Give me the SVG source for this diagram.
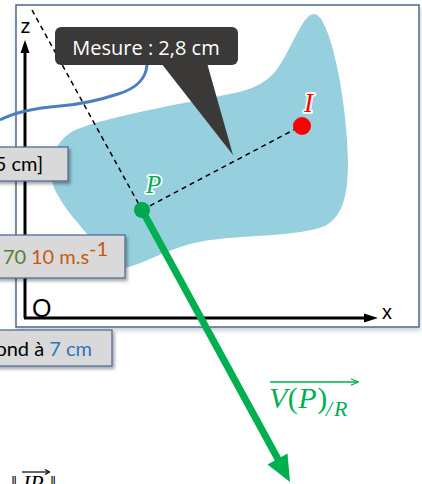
<svg xmlns="http://www.w3.org/2000/svg" width="422" height="484" viewBox="0 0 422 484">
  <defs>
    <filter id="shadow" x="-10%" y="-20%" width="130%" height="150%">
      <feDropShadow dx="2" dy="2.5" stdDeviation="1.5" flood-color="#000" flood-opacity="0.35"/>
    </filter>
    <filter id="fshadow" x="-5%" y="-5%" width="110%" height="112%">
      <feDropShadow dx="1" dy="3" stdDeviation="2" flood-color="#000" flood-opacity="0.18"/>
    </filter>
    <marker id="smallArrow" viewBox="0 0 10 10" refX="9" refY="5" markerWidth="8" markerHeight="8" markerUnits="userSpaceOnUse" orient="auto">
      <path d="M0,1 L10,5 L0,9" fill="none" stroke="#00b050" stroke-width="1.5"/>
    </marker>
  </defs>
  <style>
    .box { fill: #d9d9d9; stroke: #4f6d98; stroke-width: 1.3; filter: url(#shadow); }
    .ui { font-family: Lato, "Liberation Sans", sans-serif; font-size: 20px; }
    .axisl { font-family: "Liberation Sans", Arial, sans-serif; fill: #000; }
    .math { font-family: "Liberation Serif", "DejaVu Serif", serif; }
    .dash { fill: none; stroke: #000; stroke-width: 1.5; stroke-dasharray: 5 4; }
    .glow { stroke: #fff; stroke-width: 3.5; paint-order: stroke; stroke-linejoin: round; }
  </style>

  <g id="frame">
    <rect x="16" y="5" width="403" height="322" fill="#fff" stroke="#4d6a92" stroke-width="1.5" filter="url(#fshadow)"/>
  </g>

  <g id="surface">
    <path d="M 314,14 C 302,14 292,50 275,72 C 260,88 245,91 220,96 C 180,104 110,116 75,130 C 55,140 45,165 55,190 C 65,210 80,225 92,240 C 100,255 110,272 125,268 C 150,262 170,246 210,240 C 250,235 300,236 325,226 C 345,215 348,190 348,160 C 347,100 330,14 314,14 Z" fill="#96cfdd"/>
  </g>

  <g id="axes">
    <line x1="25" y1="318" x2="25" y2="50" stroke="#000" stroke-width="3"/>
    <polygon points="25,40 20.5,53 29.5,53" fill="#000"/>
    <line x1="24" y1="318" x2="366" y2="318" stroke="#000" stroke-width="3"/>
    <polygon points="378,318 364,313.5 364,322.5" fill="#000"/>
    <text class="axisl" x="20.5" y="33" font-size="20">z</text>
    <text class="axisl" x="382" y="319" font-size="20">x</text>
    <text class="axisl" x="32" y="317" font-size="25">O</text>
  </g>

  <g id="connectors">
    <path d="M 147,65 C 146,78 138,88 118,94 C 100,100 85,104 60,106 C 35,108 15,112 0,120" fill="none" stroke="#4a7fc1" stroke-width="3"/>
    <line class="dash" x1="32" y1="10" x2="142" y2="210"/>
    <line class="dash" x1="142" y1="210" x2="301" y2="126"/>
  </g>

  <g id="tooltip">
    <rect x="55" y="27" width="183" height="38" rx="6" fill="#3a3938"/>
    <polygon points="161,63 207,63 233,155" fill="#3a3938"/>
    <text x="146" y="55" text-anchor="middle" font-family="'Open Sans', 'Liberation Sans', sans-serif" font-size="20" fill="#fff">Mesure : 2,8 cm</text>
  </g>

  <g id="vector">
    <line x1="142" y1="210" x2="279" y2="461" stroke="#00b050" stroke-width="7"/>
    <polygon points="290,482 267.5,464.5 287.5,453.5" fill="#00b050"/>
    <line x1="270" y1="382" x2="358" y2="382" stroke="#00b050" stroke-width="1.5" marker-end="url(#smallArrow)"/>
    <text class="math" x="269" y="408" font-size="30" fill="#00b050" letter-spacing="0.5"><tspan font-style="italic">V</tspan>(<tspan font-style="italic">P</tspan>)</text>
    <text class="math" x="326" y="416" font-size="22" fill="#00b050" font-style="italic" letter-spacing="2">/R</text>
  </g>

  <g id="point-P">
    <circle cx="142" cy="210" r="8" fill="#00a651"/>
    <text class="math glow" x="146" y="193" font-size="25" font-style="italic" fill="#00b050">P</text>
  </g>

  <g id="point-I">
    <circle cx="302" cy="126" r="9" fill="#ff0000"/>
    <text class="math glow" x="304" y="112" font-size="27" font-style="italic" fill="#ff0000">I</text>
  </g>

  <g id="box-1">
    <rect class="box" x="-5" y="147" width="73" height="34"/>
    <text class="ui" x="43" y="171" text-anchor="end" fill="#000">5 cm]</text>
  </g>

  <g id="box-2">
    <rect class="box" x="-5" y="235" width="130" height="43"/>
    <text class="ui" x="3" y="264" fill="#548235">70</text>
    <text class="ui" x="31" y="264" fill="#c55a11">10 m.s</text>
    <text class="ui" x="89" y="256" font-size="12" fill="#c55a11">-1</text>
  </g>

  <g id="box-3">
    <rect class="box" x="-5" y="330" width="117" height="36"/>
    <text class="ui" x="92" y="356" text-anchor="end" fill="#000">ond à <tspan fill="#2e75b6">7 cm</tspan></text>
  </g>

  <g id="norm">
    <text class="math" x="11" y="490" font-size="22" fill="#000">‖</text>
    <text class="math" x="23" y="490" font-size="22" font-style="italic" fill="#000">IP</text>
    <text class="math" x="50" y="490" font-size="22" fill="#000">‖</text>
    <line x1="22" y1="472" x2="49" y2="472" stroke="#000" stroke-width="1.2"/>
    <path d="M45,469.5 L49.5,472 L45,474.5" fill="none" stroke="#000" stroke-width="1.2"/>
  </g>
</svg>
